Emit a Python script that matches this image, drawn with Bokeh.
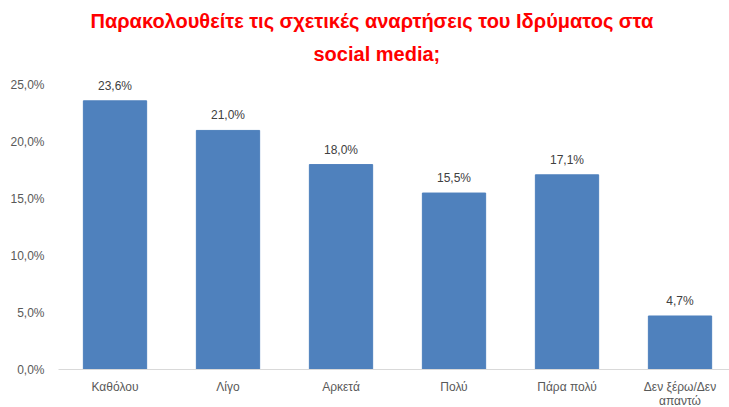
from bokeh.plotting import figure
from bokeh.models import ColumnDataSource, FixedTicker, LabelSet, Title
from bokeh.core.properties import value
from bokeh.embed import file_html
from bokeh.resources import INLINE

categories = ["Καθόλου", "Λίγο", "Αρκετά", "Πολύ", "Πάρα πολύ", "Δεν ξέρω/Δεν\nαπαντώ"]
values = [23.6, 21.0, 18.0, 15.5, 17.1, 4.7]
value_labels = ["23,6%", "21,0%", "18,0%", "15,5%", "17,1%", "4,7%"]
y_ticks = [0, 5, 10, 15, 20, 25]
y_tick_labels = ["0,0%", "5,0%", "10,0%", "15,0%", "20,0%", "25,0%"]
title_lines = ["Παρακολουθείτε τις σχετικές αναρτήσεις του Ιδρύματος στα", "social media;"]

xs = list(range(len(categories)))
src = ColumnDataSource(dict(x=xs, top=values, lbl=value_labels))

p = figure(frame_width=671, frame_height=296, output_backend="svg", toolbar_location=None,
           x_range=(-0.5, 5.438), y_range=(0, 26),
           min_border_left=58, min_border_right=0, min_border_top=73, min_border_bottom=38)
p.outline_line_color = None
p.grid.visible = False

p.vbar(x="x", top="top", width=0.56, source=src, fill_color="#4F81BD", line_color="#4F81BD")

labels = LabelSet(x="x", y="top", text="lbl", source=src, text_align="center",
                  text_baseline="bottom", y_offset=8, text_font=value("Liberation Sans"),
                  text_font_size="12px", text_color="#404040")
p.add_layout(labels)

p.xaxis.ticker = FixedTicker(ticks=xs)
p.xaxis.major_label_overrides = {i: c for i, c in enumerate(categories)}
p.xaxis.axis_line_color = "#D9D9D9"
p.xaxis.major_tick_line_color = None
p.xaxis.minor_tick_line_color = None
p.xaxis.major_tick_out = 0
p.xaxis.major_tick_in = 0
p.xaxis.minor_tick_out = 0
p.xaxis.major_label_standoff = 10
p.xaxis.major_label_text_font = "Liberation Sans"
p.xaxis.major_label_text_font_size = "12px"
p.xaxis.major_label_text_color = "#595959"
p.xaxis.major_label_text_line_height = 1.0

p.yaxis.ticker = FixedTicker(ticks=y_ticks)
p.yaxis.major_label_overrides = {t: l for t, l in zip(y_ticks, y_tick_labels)}
p.yaxis.axis_line_color = None
p.yaxis.major_tick_line_color = None
p.yaxis.minor_tick_line_color = None
p.yaxis.major_tick_out = 0
p.yaxis.major_tick_in = 0
p.yaxis.minor_tick_out = 0
p.yaxis.major_label_standoff = 14
p.yaxis.major_label_text_font = "Liberation Sans"
p.yaxis.major_label_text_font_size = "12px"
p.yaxis.major_label_text_color = "#595959"

for line, off, so in [(title_lines[1], 255, 18), (title_lines[0], 32, 0)]:
    p.add_layout(Title(text=line, align="left", offset=off, standoff=so,
                       text_color="#FF0000", text_font="Liberation Sans",
                       text_font_style="bold", text_font_size="20px"), "above")

open("out.html", "w").write(file_html(p, INLINE))
